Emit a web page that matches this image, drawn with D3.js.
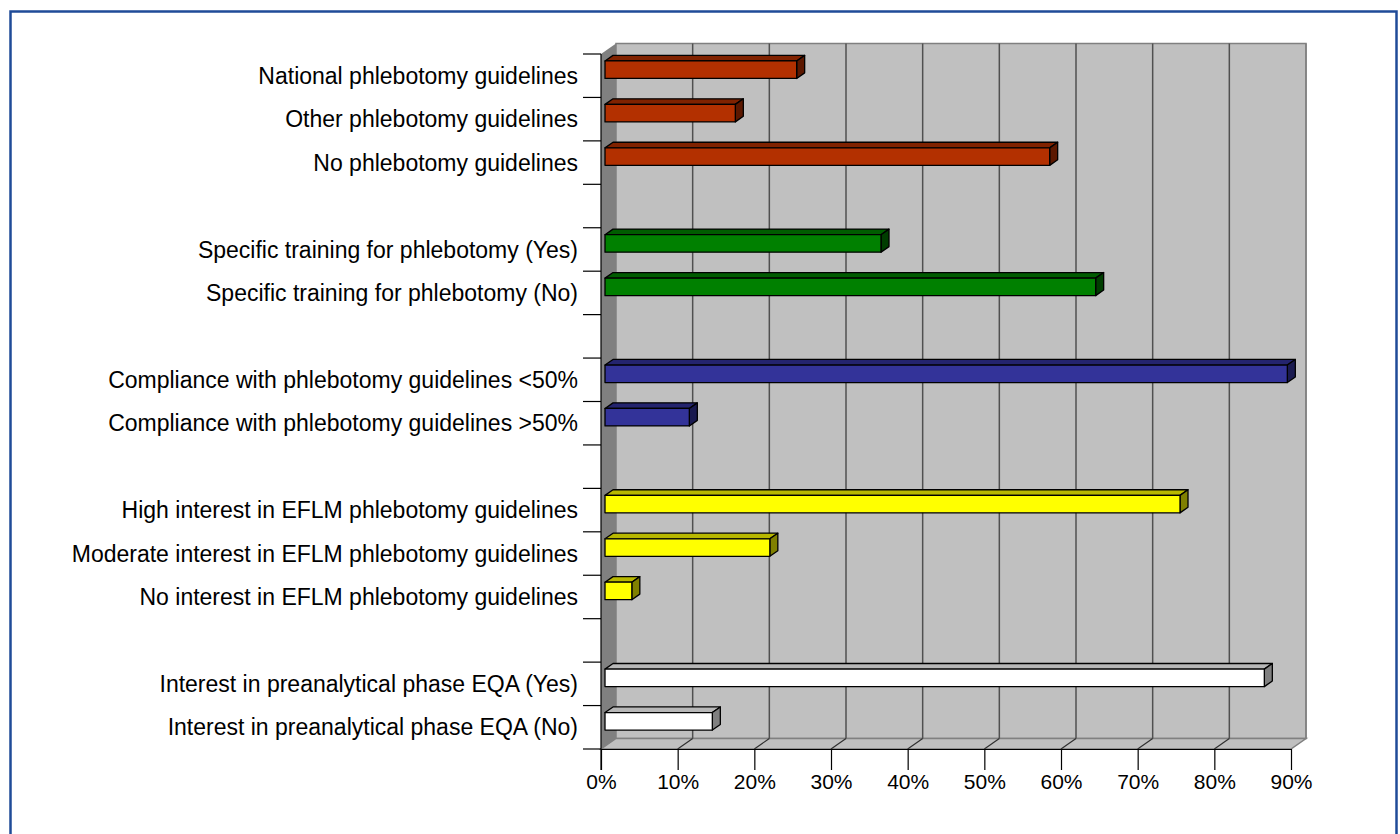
<!DOCTYPE html>
<html>
<head>
<meta charset="utf-8">
<script src="https://cdn.jsdelivr.net/npm/d3@7"></script>
<style>
  body { margin: 0; background: #fff; }
  svg { display: block; font-family: "Liberation Sans", Arial, sans-serif; }
</style>
</head>
<body>
<svg id="graph" width="1400" height="834"></svg>
<script>
// categories from top to bottom, blank strings are the gaps between groups
var categories = [
    "National phlebotomy guidelines",
    "Other phlebotomy guidelines",
    "No phlebotomy guidelines",
    "",
    "Specific training for phlebotomy (Yes)",
    "Specific training for phlebotomy (No)",
    "",
    "Compliance with phlebotomy guidelines <50%",
    "Compliance with phlebotomy guidelines >50%",
    "",
    "High interest in EFLM phlebotomy guidelines",
    "Moderate interest in EFLM phlebotomy guidelines",
    "No interest in EFLM phlebotomy guidelines",
    "",
    "Interest in preanalytical phase EQA (Yes)",
    "Interest in preanalytical phase EQA (No)"
];
var values = [25, 17, 58, null, 36, 64, null, 89, 11, null, 75, 21.5, 3.5, null, 86, 14];
var groups = [0, 0, 0, null, 1, 1, null, 2, 2, null, 3, 3, 3, null, 4, 4];
var xTicks = [0, 10, 20, 30, 40, 50, 60, 70, 80, 90];

(function () {
    'use strict';

    // front, top, side colours per group
    var palette = [
        ["#b33000", "#802200", "#5c1800"],
        ["#008000", "#005c00", "#003d00"],
        ["#333399", "#24246e", "#1a1a50"],
        ["#ffff00", "#b8b800", "#808000"],
        ["#ffffff", "#b8b8b8", "#808080"]
    ];

    var svg = d3.select("#graph");

    // outer frame
    svg.append("rect")
        .attr("x", 10.5).attr("y", 11.5)
        .attr("width", 1386).attr("height", 840)
        .attr("fill", "none")
        .attr("stroke", "#1f4b98")
        .attr("stroke-width", 2.5);

    var plotTop = 54, plotBottom = 749;
    var depthX = 15, depthY = -10.5;

    // set the ranges
    var x = d3.scaleLinear().domain([0, 90]).range([601, 1291]);
    var y = d3.scaleBand().domain(d3.range(categories.length)).range([plotTop, plotBottom]);

    var x0 = x(0), x1 = x(90);

    // back wall
    svg.append("rect")
        .attr("x", x0 + depthX).attr("y", plotTop + depthY)
        .attr("width", x1 - x0).attr("height", plotBottom - plotTop)
        .attr("fill", "#c0c0c0")
        .attr("stroke", "#808080")
        .attr("stroke-width", 1.5);

    // floor
    svg.append("path")
        .attr("d", "M" + x0 + "," + plotBottom + "L" + (x0 + depthX) + "," + (plotBottom + depthY) +
            "L" + (x1 + depthX) + "," + (plotBottom + depthY) + "L" + x1 + "," + plotBottom + "Z")
        .attr("fill", "#c0c0c0")
        .attr("stroke", "#808080")
        .attr("stroke-width", 1.5);

    // left wall
    svg.append("path")
        .attr("d", "M" + x0 + "," + plotTop + "L" + (x0 + depthX) + "," + (plotTop + depthY) +
            "L" + (x0 + depthX) + "," + (plotBottom + depthY) + "L" + x0 + "," + plotBottom + "Z")
        .attr("fill", "#808080");

    // gridlines on the back wall and the floor
    var grid = svg.append("g").attr("class", "grid");
    grid.selectAll(".vline")
        .data(xTicks.slice(1))
        .enter().append("line")
        .attr("x1", function (d) { return x(d) + depthX; })
        .attr("x2", function (d) { return x(d) + depthX; })
        .attr("y1", plotTop + depthY)
        .attr("y2", plotBottom + depthY)
        .attr("stroke", function (d) { return d === 90 ? "#808080" : "#505050"; })
        .attr("stroke-width", 1.5);

    grid.selectAll(".fline")
        .data(xTicks.slice(1, -1))
        .enter().append("line")
        .attr("x1", function (d) { return x(d); })
        .attr("x2", function (d) { return x(d) + depthX; })
        .attr("y1", plotBottom)
        .attr("y2", plotBottom + depthY)
        .attr("stroke", "#303030")
        .attr("stroke-width", 1.2);

    // X axis
    var xAxis = svg.append("g")
        .attr("transform", "translate(0," + plotBottom + ")")
        .call(d3.axisBottom(x).tickValues(xTicks).tickSize(21).tickSizeOuter(0)
            .tickFormat(function (d) { return d + "%"; }));
    xAxis.select(".domain").attr("stroke", "#000").attr("stroke-width", 1.2);
    xAxis.selectAll(".tick line").attr("stroke", "#000").attr("stroke-width", 1.2);
    xAxis.selectAll(".tick text")
        .attr("y", 40)
        .attr("dy", 0)
        .attr("fill", "#000")
        .style("font-size", "21px")
        .style("font-family", "'Liberation Sans', Arial, sans-serif");

    // category axis line and ticks at the band edges
    svg.append("line")
        .attr("x1", x0).attr("x2", x0)
        .attr("y1", plotTop).attr("y2", plotBottom + 21)
        .attr("stroke", "#000").attr("stroke-width", 1.2);

    svg.selectAll(".ctick")
        .data(d3.range(categories.length + 1))
        .enter().append("line")
        .attr("x1", x0 - 18).attr("x2", x0)
        .attr("y1", function (i) { return i < categories.length ? y(i) : plotBottom; })
        .attr("y2", function (i) { return i < categories.length ? y(i) : plotBottom; })
        .attr("stroke", "#000").attr("stroke-width", 1.2);

    // category labels
    svg.selectAll(".label")
        .data(categories)
        .enter().append("text")
        .attr("x", x0 - 23)
        .attr("y", function (d, i) { return y(i) + y.bandwidth() / 2; })
        .attr("dy", "0.35em")
        .attr("text-anchor", "end")
        .style("font-size", "23px")
        .text(function (d) { return d; });

    // 3D bars
    var f1 = 4 / depthX, f2 = 12 / depthX;
    var bh = 17.5;
    var bars = svg.selectAll(".bar")
        .data(values.map(function (v, i) { return { v: v, i: i, g: groups[i] }; })
            .filter(function (d) { return d.v !== null; }))
        .enter().append("g")
        .attr("class", "bar");

    function faces(d) {
        var ox = depthX * f1, oy = depthY * f1;
        var ddx = depthX * (f2 - f1), ddy = depthY * (f2 - f1);
        var xl = x(0) + ox, xr = x(d.v) + ox;
        var yt = y(d.i) + y.bandwidth() / 2 - 3.2 - bh / 2 + oy;
        var yb = yt + bh;
        return {
            front: [[xl, yt], [xr, yt], [xr, yb], [xl, yb]],
            top: [[xl, yt], [xl + ddx, yt + ddy], [xr + ddx, yt + ddy], [xr, yt]],
            side: [[xr, yt], [xr + ddx, yt + ddy], [xr + ddx, yb + ddy], [xr, yb]]
        };
    }

    var poly = function (pts) { return "M" + pts.join("L") + "Z"; };

    ["top", "side", "front"].forEach(function (face, k) {
        bars.append("path")
            .attr("d", function (d) { return poly(faces(d)[face]); })
            .attr("fill", function (d) { return palette[d.g][[1, 2, 0][k]]; })
            .attr("stroke", "#000")
            .attr("stroke-width", 1.3)
            .attr("stroke-linejoin", "round");
    });
})();
</script>
</body>
</html>
